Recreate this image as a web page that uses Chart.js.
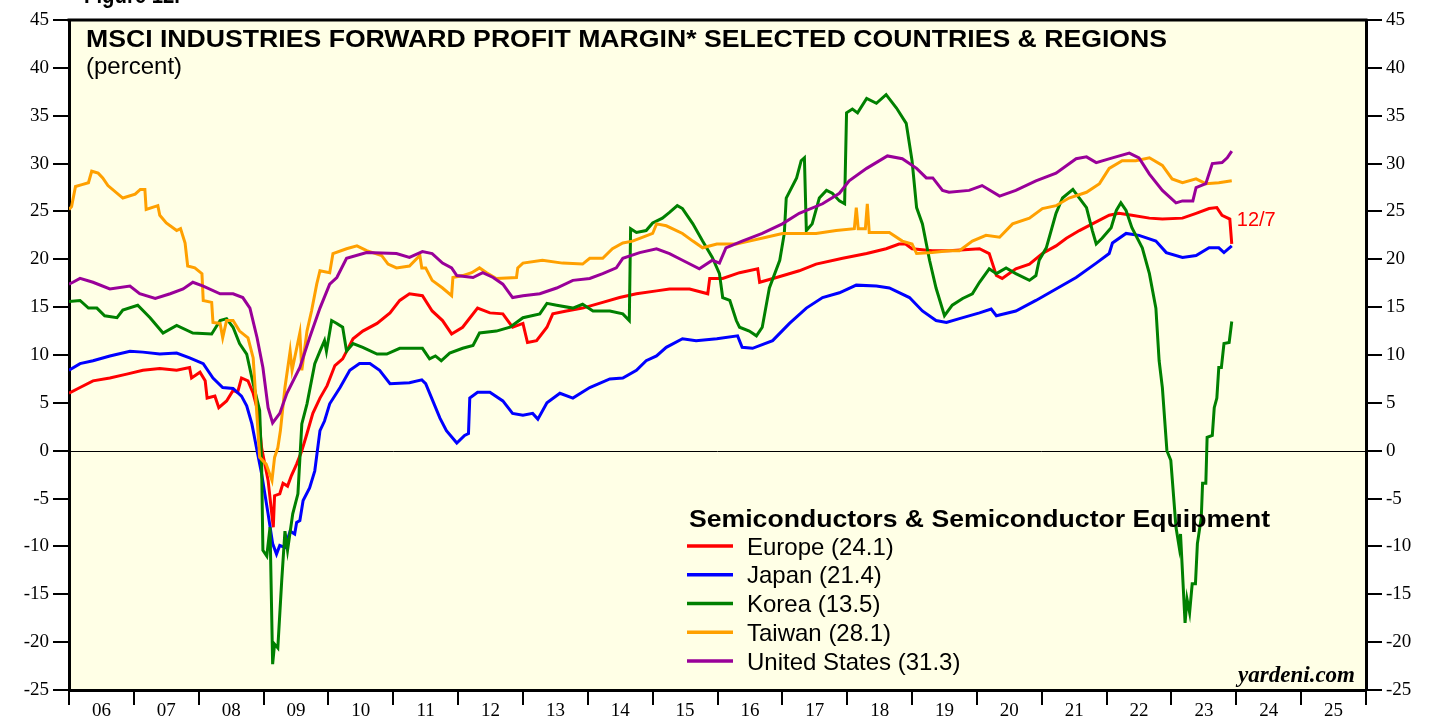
<!DOCTYPE html>
<html>
<head>
<meta charset="utf-8">
<title>MSCI Industries Forward Profit Margin</title>
<script src="https://cdn.jsdelivr.net/npm/chart.js@4.4.0/dist/chart.umd.min.js"></script>
<style>
  html, body { margin: 0; padding: 0; background: #fff; }
  canvas { display: block; }
</style>
</head>
<body>
<canvas id="myChart" width="1430" height="719"></canvas>
<script>
// year labels sit between the yearly tick marks
const yearLabels = ['06','07','08','09','10','11','12','13','14','15','16','17','18','19','20','21','22','23','24','25'];
const seriesNames = ['Europe', 'Japan', 'Korea', 'Taiwan', 'United States'];
const lastValues = [24.1, 21.4, 13.5, 28.1, 31.3];
const lineColors = ['#ff0000', '#0000ff', '#008000', '#ffa000', '#990099'];

// weekly data (decimal years / percent)
const europeX = [2006.0, 2006.17, 2006.37, 2006.63, 2006.89, 2007.14, 2007.4, 2007.66, 2007.86, 2007.89,
  2008.02, 2008.1, 2008.13, 2008.25, 2008.31, 2008.43, 2008.53, 2008.6, 2008.66, 2008.76,
  2008.84, 2008.92, 2008.97, 2009.07, 2009.15, 2009.17, 2009.25, 2009.3, 2009.37, 2009.43,
  2009.51, 2009.59, 2009.67, 2009.76, 2009.87, 2009.98, 2010.1, 2010.22, 2010.38, 2010.53,
  2010.75, 2010.95, 2011.1, 2011.25, 2011.45, 2011.6, 2011.76, 2011.9, 2012.07, 2012.3,
  2012.49, 2012.69, 2012.84, 2013.0, 2013.07, 2013.21, 2013.37, 2013.46, 2013.67, 2013.92,
  2014.23, 2014.49, 2014.75, 2015.06, 2015.26, 2015.57, 2015.85, 2015.88, 2016.08, 2016.34,
  2016.62, 2016.65, 2016.91, 2017.26, 2017.52, 2017.93, 2018.3, 2018.6, 2018.8, 2018.9,
  2019.0, 2019.31, 2019.57, 2020.04, 2020.19, 2020.3, 2020.39, 2020.6, 2020.81, 2021.01,
  2021.22, 2021.38, 2021.58, 2021.78, 2022.04, 2022.19, 2022.39, 2022.66, 2022.86, 2023.17,
  2023.38, 2023.58, 2023.7, 2023.78, 2023.9, 2023.93];
const europeY = [6.0, 6.6, 7.3, 7.6, 8.0, 8.4, 8.6, 8.4, 8.7, 7.6,
  8.2, 7.3, 5.5, 5.7, 4.5, 5.2, 6.3, 6.1, 7.6, 7.3,
  6.0, 3.9, 0.3, -3.1, -8.0, -4.7, -4.5, -3.4, -3.7, -2.6,
  -1.4, 0.0, 1.8, 3.9, 5.5, 6.8, 8.9, 9.6, 11.7, 12.5,
  13.3, 14.4, 15.7, 16.4, 16.2, 14.6, 13.6, 12.2, 12.9, 14.9,
  14.4, 14.3, 12.9, 13.3, 11.3, 11.5, 12.9, 14.3, 14.6, 14.9,
  15.5, 16.0, 16.4, 16.7, 16.9, 16.9, 16.4, 18.0, 18.0, 18.6,
  19.0, 17.6, 18.1, 18.8, 19.5, 20.1, 20.6, 21.1, 21.6, 21.6,
  21.1, 20.9, 20.9, 21.1, 20.6, 18.3, 18.0, 19.0, 19.5, 20.6,
  21.4, 22.2, 23.0, 23.7, 24.6, 24.8, 24.6, 24.3, 24.2, 24.3,
  24.8, 25.3, 25.4, 24.6, 24.2, 21.6];

const japanX = [2006.0, 2006.17, 2006.37, 2006.63, 2006.94, 2007.14, 2007.4, 2007.66, 2007.86, 2008.07,
  2008.22, 2008.37, 2008.53, 2008.66, 2008.74, 2008.82, 2008.9, 2008.97, 2009.07, 2009.14,
  2009.2, 2009.25, 2009.33, 2009.41, 2009.48, 2009.51, 2009.56, 2009.61, 2009.71, 2009.79,
  2009.87, 2009.94, 2010.02, 2010.18, 2010.33, 2010.48, 2010.64, 2010.79, 2010.95, 2011.25,
  2011.44, 2011.5, 2011.61, 2011.72, 2011.82, 2011.98, 2012.1, 2012.16, 2012.18, 2012.3,
  2012.49, 2012.69, 2012.84, 2013.0, 2013.15, 2013.23, 2013.37, 2013.57, 2013.77, 2014.03,
  2014.34, 2014.54, 2014.75, 2014.9, 2015.06, 2015.21, 2015.46, 2015.67, 2015.99, 2016.31,
  2016.38, 2016.54, 2016.85, 2017.11, 2017.37, 2017.62, 2017.88, 2018.14, 2018.45, 2018.65,
  2018.96, 2019.16, 2019.37, 2019.53, 2019.73, 2020.04, 2020.22, 2020.3, 2020.6, 2020.91,
  2021.22, 2021.53, 2021.84, 2022.04, 2022.09, 2022.3, 2022.5, 2022.76, 2022.92, 2023.17,
  2023.38, 2023.58, 2023.73, 2023.81, 2023.93];
const japanY = [8.4, 9.1, 9.4, 9.9, 10.4, 10.3, 10.1, 10.2, 9.7, 9.1,
  7.6, 6.6, 6.5, 5.7, 4.7, 2.8, 0.0, -2.4, -6.6, -9.7,
  -10.8, -9.9, -10.1, -8.4, -8.7, -7.5, -7.3, -5.2, -3.9, -2.1,
  2.1, 3.1, 4.9, 6.6, 8.4, 9.1, 9.1, 8.4, 7.0, 7.1,
  7.4, 7.0, 5.2, 3.4, 2.1, 0.8, 1.6, 1.8, 5.5, 6.1,
  6.1, 5.2, 3.9, 3.7, 3.9, 3.3, 5.0, 6.0, 5.5, 6.6,
  7.5, 7.6, 8.4, 9.4, 9.9, 10.8, 11.7, 11.5, 11.7, 12.0,
  10.8, 10.7, 11.5, 13.3, 14.9, 16.0, 16.5, 17.3, 17.2, 17.0,
  16.0, 14.6, 13.6, 13.4, 13.8, 14.4, 14.8, 14.1, 14.6, 15.7,
  16.9, 18.1, 19.6, 20.6, 21.7, 22.7, 22.5, 21.9, 20.7, 20.2,
  20.4, 21.2, 21.2, 20.7, 21.4];

const koreaX = [2006.0, 2006.17, 2006.3, 2006.43, 2006.55, 2006.74, 2006.83, 2007.06, 2007.25, 2007.45,
  2007.66, 2007.91, 2008.2, 2008.33, 2008.43, 2008.53, 2008.63, 2008.74, 2008.84, 2008.94,
  2008.97, 2008.99, 2009.05, 2009.1, 2009.14, 2009.17, 2009.22, 2009.28, 2009.33, 2009.37,
  2009.45, 2009.53, 2009.59, 2009.67, 2009.79, 2009.87, 2009.94, 2009.97, 2010.05, 2010.13,
  2010.22, 2010.28, 2010.38, 2010.53, 2010.75, 2010.9, 2011.1, 2011.45, 2011.56, 2011.65,
  2011.74, 2011.87, 2012.07, 2012.23, 2012.33, 2012.59, 2012.8, 2013.0, 2013.26, 2013.37,
  2013.52, 2013.77, 2013.92, 2014.08, 2014.34, 2014.54, 2014.64, 2014.66, 2014.75, 2014.9,
  2015.0, 2015.15, 2015.26, 2015.38, 2015.46, 2015.62, 2015.77, 2015.92, 2016.03, 2016.08,
  2016.19, 2016.29, 2016.34, 2016.49, 2016.6, 2016.69, 2016.8, 2016.96, 2017.03, 2017.06,
  2017.22, 2017.29, 2017.34, 2017.37, 2017.46, 2017.57, 2017.68, 2017.77, 2017.88, 2017.96,
  2017.99, 2018.08, 2018.16, 2018.3, 2018.45, 2018.6, 2018.76, 2018.91, 2019.0, 2019.07,
  2019.16, 2019.27, 2019.37, 2019.5, 2019.62, 2019.78, 2019.93, 2020.04, 2020.19, 2020.3,
  2020.45, 2020.6, 2020.81, 2020.91, 2020.96, 2021.07, 2021.22, 2021.32, 2021.48, 2021.58,
  2021.69, 2021.78, 2021.84, 2021.93, 2022.07, 2022.15, 2022.22, 2022.3, 2022.39, 2022.55,
  2022.66, 2022.76, 2022.81, 2022.86, 2022.93, 2022.99, 2023.07, 2023.12, 2023.14, 2023.21,
  2023.24, 2023.28, 2023.32, 2023.37, 2023.4, 2023.46, 2023.48, 2023.53, 2023.55, 2023.63,
  2023.66, 2023.7, 2023.73, 2023.77, 2023.81, 2023.89, 2023.93];
const koreaY = [15.6, 15.7, 14.9, 14.9, 14.1, 13.9, 14.7, 15.2, 13.9, 12.3,
  13.1, 12.3, 12.2, 13.6, 13.8, 12.9, 11.2, 10.1, 7.0, 4.2,
  -1.4, -10.4, -11.0, -8.0, -22.3, -20.2, -20.6, -13.6, -8.4, -10.4,
  -6.6, -4.5, 2.8, 4.9, 9.1, 10.4, 11.5, 10.4, 13.6, 13.3,
  12.9, 10.4, 11.2, 10.8, 10.1, 10.1, 10.7, 10.7, 9.6, 9.9,
  9.4, 10.2, 10.7, 11.0, 12.3, 12.5, 12.9, 13.9, 14.3, 15.4,
  15.2, 14.9, 15.3, 14.6, 14.6, 14.3, 13.6, 23.2, 22.8, 23.0,
  23.8, 24.3, 24.9, 25.6, 25.3, 23.7, 21.9, 20.2, 18.5, 16.0,
  15.7, 13.6, 12.9, 12.5, 12.0, 12.9, 17.0, 19.9, 22.7, 26.4,
  28.5, 30.3, 30.6, 23.0, 23.7, 26.4, 27.2, 26.9, 26.1, 25.8,
  35.3, 35.7, 35.3, 36.8, 36.3, 37.2, 35.8, 34.2, 30.3, 25.4,
  23.7, 19.9, 17.0, 14.1, 15.2, 15.9, 16.4, 17.6, 19.0, 18.5,
  19.1, 18.5, 17.8, 18.3, 19.9, 21.2, 24.8, 26.4, 27.3, 26.4,
  25.4, 23.0, 21.6, 22.2, 23.3, 25.1, 25.9, 25.1, 23.3, 21.2,
  18.5, 14.9, 9.4, 6.6, 0.0, -1.0, -8.0, -10.1, -8.7, -18.0,
  -15.5, -16.9, -13.9, -13.9, -9.7, -7.0, -3.4, -3.4, 1.4, 1.6,
  4.5, 5.5, 8.7, 8.7, 11.2, 11.3, 13.5];

const taiwanX = [2006.0, 2006.04, 2006.1, 2006.2, 2006.3, 2006.35, 2006.45, 2006.52, 2006.6, 2006.83,
  2007.02, 2007.1, 2007.17, 2007.19, 2007.37, 2007.4, 2007.5, 2007.66, 2007.72, 2007.79,
  2007.83, 2007.94, 2008.05, 2008.07, 2008.2, 2008.22, 2008.33, 2008.37, 2008.43, 2008.53,
  2008.63, 2008.76, 2008.84, 2008.94, 2009.04, 2009.13, 2009.17, 2009.22, 2009.26, 2009.33,
  2009.41, 2009.44, 2009.56, 2009.59, 2009.67, 2009.74, 2009.82, 2009.87, 2010.02, 2010.07,
  2010.28, 2010.44, 2010.59, 2010.82, 2010.92, 2011.05, 2011.25, 2011.41, 2011.44, 2011.5,
  2011.6, 2011.76, 2011.9, 2011.92, 2012.07, 2012.21, 2012.33, 2012.44, 2012.59, 2012.9,
  2012.92, 2013.0, 2013.3, 2013.61, 2013.92, 2014.03, 2014.23, 2014.38, 2014.54, 2014.69,
  2014.84, 2015.0, 2015.06, 2015.21, 2015.46, 2015.62, 2015.77, 2015.99, 2016.29, 2016.49,
  2016.75, 2017.0, 2017.26, 2017.52, 2017.83, 2018.11, 2018.14, 2018.17, 2018.28, 2018.31,
  2018.34, 2018.65, 2018.85, 2019.0, 2019.07, 2019.31, 2019.57, 2019.73, 2019.93, 2020.14,
  2020.35, 2020.55, 2020.81, 2021.01, 2021.22, 2021.42, 2021.69, 2021.89, 2022.04, 2022.24,
  2022.45, 2022.66, 2022.86, 2023.01, 2023.17, 2023.38, 2023.53, 2023.73, 2023.93];
const taiwanY = [25.2, 25.5, 27.6, 27.8, 28.0, 29.2, 29.0, 28.5, 27.7, 26.4,
  26.8, 27.3, 27.3, 25.2, 25.6, 24.6, 23.8, 23.0, 23.2, 21.7,
  19.3, 19.1, 18.5, 15.7, 15.5, 13.4, 13.3, 11.8, 13.6, 13.6,
  12.5, 11.8, 9.7, -0.7, -1.4, -3.1, -0.7, 0.3, 2.1, 6.6,
  10.4, 8.4, 12.3, 8.4, 12.5, 14.6, 17.4, 18.8, 18.6, 20.6,
  21.1, 21.4, 20.9, 20.4, 19.5, 19.1, 19.3, 20.4, 19.1, 19.1,
  17.8, 17.0, 16.2, 18.1, 18.3, 18.6, 19.1, 18.6, 18.0, 18.1,
  19.1, 19.6, 19.9, 19.6, 19.5, 20.1, 20.1, 21.1, 21.7, 21.9,
  22.3, 22.7, 23.7, 23.5, 22.7, 21.9, 21.2, 21.6, 21.6, 21.9,
  22.3, 22.7, 22.7, 22.7, 23.0, 23.2, 25.4, 23.2, 23.2, 25.8,
  22.8, 22.8, 21.9, 21.6, 20.6, 20.7, 20.9, 20.9, 21.9, 22.5,
  22.3, 23.7, 24.3, 25.3, 25.6, 26.4, 27.0, 27.9, 29.5, 30.3,
  30.3, 30.6, 29.8, 28.4, 28.0, 28.4, 27.9, 28.0, 28.2];

const usX = [2006.0, 2006.06, 2006.17, 2006.37, 2006.63, 2006.94, 2007.09, 2007.33, 2007.56, 2007.76,
  2007.91, 2008.07, 2008.33, 2008.53, 2008.68, 2008.79, 2008.9, 2008.99, 2009.07, 2009.14,
  2009.25, 2009.36, 2009.56, 2009.71, 2009.87, 2010.02, 2010.13, 2010.28, 2010.59, 2011.05,
  2011.25, 2011.45, 2011.6, 2011.76, 2011.9, 2011.98, 2012.23, 2012.38, 2012.54, 2012.69,
  2012.84, 2013.0, 2013.26, 2013.52, 2013.77, 2014.03, 2014.23, 2014.44, 2014.54, 2014.8,
  2015.06, 2015.26, 2015.46, 2015.72, 2015.92, 2016.03, 2016.13, 2016.38, 2016.69, 2017.0,
  2017.26, 2017.62, 2017.88, 2018.03, 2018.3, 2018.62, 2018.85, 2019.07, 2019.22, 2019.32,
  2019.47, 2019.57, 2019.88, 2020.08, 2020.35, 2020.6, 2020.91, 2021.22, 2021.53, 2021.69,
  2021.84, 2022.09, 2022.35, 2022.5, 2022.66, 2022.86, 2023.07, 2023.17, 2023.33, 2023.38,
  2023.53, 2023.63, 2023.78, 2023.86, 2023.93];
const usY = [17.4, 17.6, 18.0, 17.6, 16.9, 17.2, 16.4, 15.9, 16.4, 16.9,
  17.6, 17.2, 16.4, 16.4, 16.0, 14.9, 11.8, 8.7, 4.5, 2.9,
  3.9, 6.0, 8.7, 11.8, 14.9, 17.4, 18.1, 20.1, 20.7, 20.6,
  20.2, 20.8, 20.6, 19.6, 19.1, 18.3, 18.1, 18.6, 18.1, 17.4,
  16.0, 16.2, 16.4, 17.0, 17.8, 18.0, 18.5, 19.1, 20.1, 20.7,
  21.1, 20.6, 19.9, 19.0, 19.9, 19.6, 21.2, 21.9, 22.7, 23.7,
  24.8, 25.8, 26.9, 28.2, 29.5, 30.8, 30.5, 29.5, 28.5, 28.5,
  27.2, 27.0, 27.2, 27.7, 26.6, 27.2, 28.2, 29.0, 30.5, 30.7,
  30.1, 30.6, 31.1, 30.6, 28.9, 27.2, 25.9, 26.1, 26.1, 27.5,
  27.9, 30.0, 30.1, 30.6, 31.3];

function pts(xs, ys) {
  return xs.map(function (x, i) { return { x: x, y: ys[i] }; });
}

const allX = [europeX, japanX, koreaX, taiwanX, usX];
const allY = [europeY, japanY, koreaY, taiwanY, usY];

const sans = 'Liberation Sans, Arial, sans-serif';
const serif = 'Liberation Serif, Times New Roman, serif';

// text squeezed/stretched to a given width (the bold titles run wide)
function wideText(ctx, text, x, y, width) {
  const w = ctx.measureText(text).width;
  ctx.save();
  ctx.translate(x, y);
  ctx.scale(width / w, 1);
  ctx.fillText(text, 0, 0);
  ctx.restore();
}

const framePlugin = {
  id: 'frame',
  beforeDraw(chart) {
    const ctx = chart.ctx, a = chart.chartArea;
    ctx.save();
    ctx.fillStyle = '#fff';
    ctx.fillRect(0, 0, chart.width, chart.height);
    ctx.fillStyle = '#ffffe6';
    ctx.fillRect(a.left, a.top, a.right - a.left, a.bottom - a.top);
    ctx.restore();
  },
  beforeDatasetsDraw(chart) {
    const ctx = chart.ctx, a = chart.chartArea;
    const y0 = Math.round(chart.scales.y.getPixelForValue(0)) + 0.5;
    ctx.save();
    ctx.strokeStyle = '#000';
    ctx.lineWidth = 1;
    ctx.beginPath();
    ctx.moveTo(a.left, y0);
    ctx.lineTo(a.right, y0);
    ctx.stroke();
    ctx.restore();
  },
  afterDraw(chart) {
    const ctx = chart.ctx, a = chart.chartArea;
    const sx = chart.scales.x, sy = chart.scales.y;
    ctx.save();
    // top edge of the frame
    ctx.strokeStyle = '#000';
    ctx.lineWidth = 3;
    ctx.beginPath();
    ctx.moveTo(a.left - 1.5, a.top);
    ctx.lineTo(a.right + 1.5, a.top);
    ctx.stroke();

    ctx.fillStyle = '#000';
    ctx.textAlign = 'left';
    ctx.textBaseline = 'alphabetic';
    ctx.font = 'bold 24px ' + sans;
    wideText(ctx, 'Figure 12.', 84, 3, 96);
    wideText(ctx, 'MSCI INDUSTRIES FORWARD PROFIT MARGIN* SELECTED COUNTRIES & REGIONS', 86, 47, 1081);
    ctx.font = '24px ' + sans;
    ctx.fillText('(percent)', 86, 74);

    // legend
    ctx.font = 'bold 24px ' + sans;
    wideText(ctx, 'Semiconductors & Semiconductor Equipment', 689, 527, 581);
    chart.data.datasets.forEach(function (ds, i) {
      const yy = 546 + i * 28.75;
      ctx.strokeStyle = ds.borderColor;
      ctx.lineWidth = 3.5;
      ctx.beginPath();
      ctx.moveTo(687, yy);
      ctx.lineTo(733, yy);
      ctx.stroke();
      ctx.fillStyle = '#000';
      ctx.font = '24px ' + sans;
      ctx.fillText(ds.label + ' (' + lastValues[i].toFixed(1) + ')', 747, yy + 8.5);
    });

    // end date tag on the Europe line
    ctx.fillStyle = '#ff0000';
    ctx.font = '20px ' + sans;
    ctx.fillText('12/7', sx.getPixelForValue(europeX[europeX.length - 1]) + 5, sy.getPixelForValue(24.2) + 7);

    ctx.fillStyle = '#000';
    ctx.textAlign = 'right';
    ctx.font = 'italic bold 23px ' + serif;
    ctx.fillText('yardeni.com', a.right - 11, a.bottom - 8);
    ctx.restore();
  }
};

const yAxisBase = {
  min: -25,
  max: 45,
  ticks: { stepSize: 5, color: '#000', padding: 4, font: { family: serif, size: 19 } },
  grid: { drawOnChartArea: false, drawTicks: true, tickLength: 16, color: '#000', lineWidth: 2 },
  border: { display: true, color: '#000', width: 3 }
};

const ctx = document.getElementById('myChart').getContext('2d');
const myChart = new Chart(ctx, {
  type: 'line',
  data: {
    datasets: seriesNames.map(function (name, i) {
      return {
        label: name,
        data: pts(allX[i], allY[i]),
        borderColor: lineColors[i],
        backgroundColor: lineColors[i],
        borderWidth: 3,
        pointRadius: 0,
        tension: 0,
        fill: false,
        order: seriesNames.length - i
      };
    })
  },
  options: {
    responsive: false,
    animation: false,
    devicePixelRatio: 1,
    layout: { padding: { top: 20, left: 0, right: 0, bottom: 0 } },
    plugins: { legend: { display: false }, tooltip: { enabled: false } },
    scales: {
      x: {
        type: 'linear',
        position: 'bottom',
        min: 2006,
        max: 2026,
        ticks: { display: false, stepSize: 1 },
        grid: { drawOnChartArea: false, drawTicks: true, tickLength: 15, color: '#000', lineWidth: 2 },
        border: { display: true, color: '#000', width: 3 },
        afterFit: function (s) { s.height = 10; }
      },
      x2: {
        type: 'linear',
        position: 'bottom',
        min: 2006,
        max: 2026,
        afterBuildTicks: function (s) {
          s.ticks = yearLabels.map(function (l, i) { return { value: 2006.5 + i }; });
        },
        ticks: {
          autoSkip: false,
          maxRotation: 0,
          padding: 0,
          color: '#000',
          font: { family: serif, size: 19 },
          callback: function (v, i) { return yearLabels[i]; }
        },
        grid: { display: false, drawTicks: false },
        border: { display: false },
        afterFit: function (s) { s.height = 19; }
      },
      y: Object.assign({}, yAxisBase, { position: 'left', afterFit: function (s) { s.width = 69; } }),
      y2: Object.assign({}, yAxisBase, { position: 'right', afterFit: function (s) { s.width = 64; } })
    }
  },
  plugins: [framePlugin]
});
</script>
</body>
</html>
